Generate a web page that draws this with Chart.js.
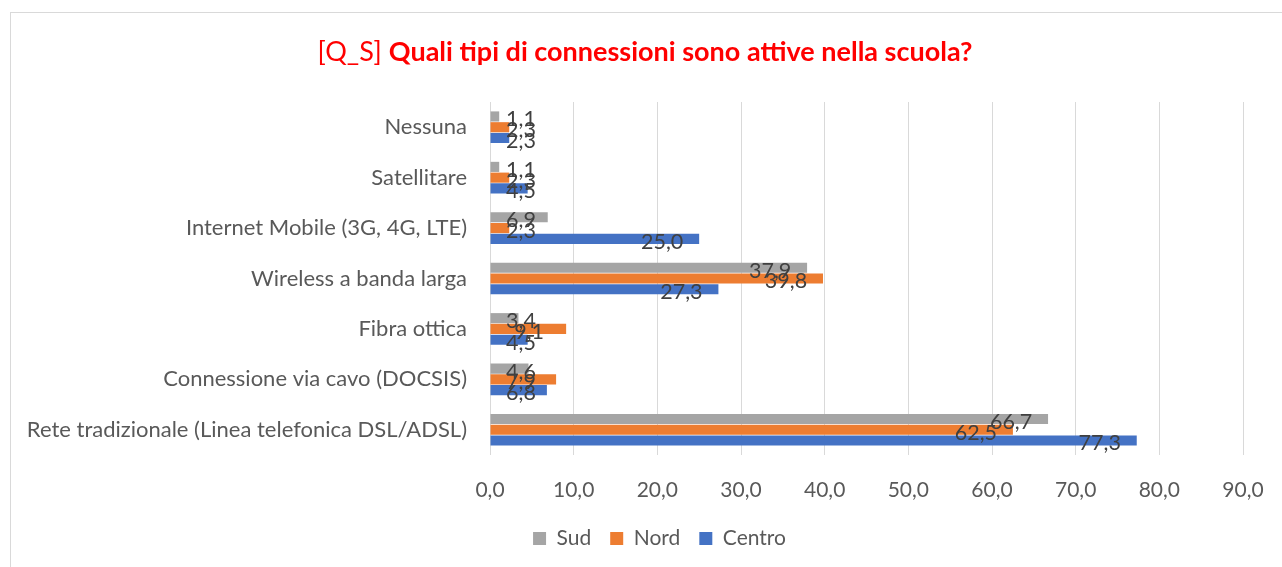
<!DOCTYPE html>
<html>
<head>
<meta charset="utf-8">
<script src="https://cdn.jsdelivr.net/npm/chart.js@4/dist/chart.umd.min.js"></script>
<style>
  html, body { margin:0; padding:0; background:#fff; }
  #frame { position:absolute; left:10px; top:12px; width:1300px; height:600px; border:1px solid #d9d9d9; box-sizing:border-box; }
  #wrap { position:absolute; left:0; top:0; width:1282px; height:567px; }
</style>
</head>
<body>
<div id="frame"></div>
<div id="wrap"><canvas id="chart" width="1282" height="567"></canvas></div>
<script>
// ── data ──────────────────────────────────────────────
const categories = [
  'Nessuna',
  'Satellitare',
  'Internet Mobile (3G, 4G, LTE)',
  'Wireless a banda larga',
  'Fibra ottica',
  'Connessione via cavo (DOCSIS)',
  'Rete tradizionale (Linea telefonica DSL/ADSL)'
];
const sud    = [1.1, 1.1, 6.9, 37.9, 3.4, 4.6, 66.7];
const nord   = [2.3, 2.3, 2.3, 39.8, 9.1, 7.9, 62.5];
const centro = [2.3, 4.5, 25.0, 27.3, 4.5, 6.8, 77.3];
const xTicks = [0, 10, 20, 30, 40, 50, 60, 70, 80, 90];

const COLORS = { sud:'#a5a5a5', nord:'#ed7d31', centro:'#4472c4' };
const FONT = "Lato, 'Noto Sans', sans-serif";
const fmt = v => v.toFixed(1).replace('.', ',');

// title with mixed weight: "[Q_S]" regular, question bold
const titlePlugin = {
  id:'mixedTitle',
  afterDraw(chart) {
    const c = chart.ctx;
    const a = '[Q_S] ', b = 'Quali tipi di connessioni sono attive nella scuola?';
    c.save();
    c.fillStyle = '#ff0000';
    c.textBaseline = 'middle';
    c.font = `27px ${FONT}`;
    const wa = c.measureText(a).width;
    c.font = `bold 27px ${FONT}`;
    const wb = c.measureText(b).width;
    const x = 645 - (wa + wb) / 2;
    c.font = `27px ${FONT}`;
    c.fillText(a, x, 52);
    c.font = `bold 27px ${FONT}`;
    c.fillText(b, x + wa, 52);
    c.restore();
  }
};

// value labels near the bar end
const labelPlugin = {
  id:'barLabels',
  afterDatasetsDraw(chart) {
    const c = chart.ctx;
    const x0 = chart.scales.x.getPixelForValue(0);
    c.save();
    c.font = `21.5px ${FONT}`;
    c.fillStyle = '#404040';
    c.textAlign = 'center';
    c.textBaseline = 'middle';
    chart.data.datasets.forEach((ds, i) => {
      chart.getDatasetMeta(i).data.forEach((el, j) => {
        const cx = Math.max(el.x - 37, x0 + 31);
        c.fillText(fmt(ds.data[j]), cx, el.y + 3);
      });
    });
    c.restore();
  }
};

// nudge the legend to the right so it sits where the original does
const legendShift = {
  id:'legendShift',
  afterLayout(chart) {
    if (!chart.legend) return;
    chart.legend.left += 33;
    chart.legend.right += 33;
  }
};

new Chart(document.getElementById('chart'), {
  type:'bar',
  data:{
    labels: categories,
    datasets:[
      { label:'Sud',    data:sud,    backgroundColor:COLORS.sud },
      { label:'Nord',   data:nord,   backgroundColor:COLORS.nord },
      { label:'Centro', data:centro, backgroundColor:COLORS.centro }
    ]
  },
  options:{
    indexAxis:'y',
    responsive:false,
    animation:false,
    categoryPercentage:0.64,
    barPercentage:0.94,
    layout:{ padding:{ top:102, left:10, right:39, bottom:8 } },
    plugins:{
      legend:{
        position:'bottom',
        labels:{ boxWidth:13, boxHeight:13, padding:19, color:'#595959', font:{ family:FONT, size:21 } }
      },
      tooltip:{ enabled:false }
    },
    scales:{
      x:{
        min:0, max:90,
        afterBuildTicks: s => { s.ticks = xTicks.map(v => ({ value:v })); },
        afterFit: s => { s.height = 54; s.paddingLeft = 0; s.paddingRight = 0; },
        grid:{ color:'#d9d9d9', drawTicks:false },
        border:{ display:false },
        ticks:{ padding:23, color:'#595959', font:{ family:FONT, size:21 }, callback: v => fmt(v) }
      },
      y:{
        afterFit: s => { s.width = 480; },
        grid:{ display:false },
        border:{ display:false },
        ticks:{ padding:15, color:'#595959', font:{ family:FONT, size:22 } }
      }
    }
  },
  plugins:[titlePlugin, labelPlugin, legendShift]
});
</script>
</body>
</html>
